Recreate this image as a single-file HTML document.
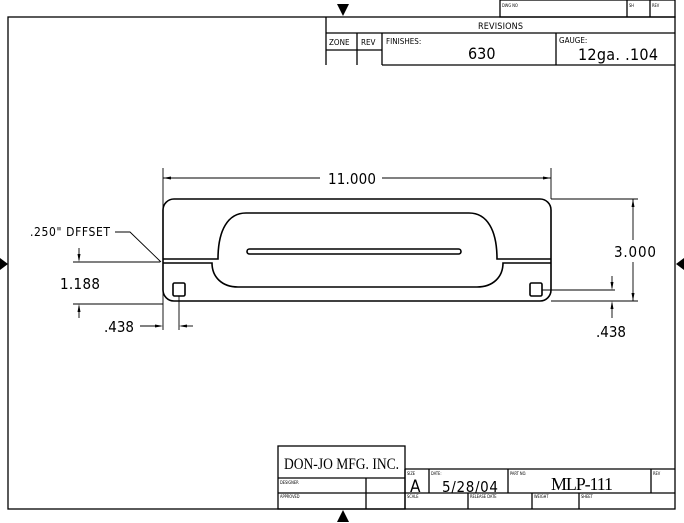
<!DOCTYPE html>
<html><head><style>
body{margin:0;background:#fff}
svg{display:block}
text{font-family:"DejaVu Sans Condensed","DejaVu Sans","Liberation Sans",sans-serif;fill:#000}
.s{font-family:"Liberation Serif",serif}
</style></head><body>
<svg width="684" height="523" viewBox="0 0 684 523" xmlns="http://www.w3.org/2000/svg">
<g fill="none" stroke="#000" stroke-width="1.3">
<rect x="8" y="17" width="667" height="492"/>
<rect x="500" y="0" width="175" height="17"/>
<line x1="627" y1="0" x2="627" y2="17"/><line x1="650" y1="0" x2="650" y2="17"/>
<line x1="326" y1="17" x2="326" y2="65"/>
<line x1="326" y1="33" x2="675" y2="33"/>
<line x1="326" y1="50" x2="382" y2="50"/>
<line x1="357" y1="33" x2="357" y2="65"/>
<line x1="382" y1="33" x2="382" y2="65"/>
<line x1="556" y1="33" x2="556" y2="65"/>
<line x1="382" y1="65" x2="675" y2="65"/>
<rect x="278" y="446" width="127" height="63"/>
<line x1="278" y1="478" x2="405" y2="478"/>
<line x1="278" y1="493" x2="675" y2="493"/>
<line x1="366" y1="478" x2="366" y2="509"/>
<line x1="405" y1="469" x2="675" y2="469"/>
<line x1="405" y1="469" x2="405" y2="509"/>
<line x1="429" y1="469" x2="429" y2="493"/>
<line x1="508" y1="469" x2="508" y2="493"/>
<line x1="651" y1="469" x2="651" y2="493"/>
<line x1="468" y1="493" x2="468" y2="509"/>
<line x1="532" y1="493" x2="532" y2="509"/>
<line x1="579" y1="493" x2="579" y2="509"/>
<g stroke-width="1.6">
<rect x="163" y="199" width="388" height="102" rx="11"/>
<path d="M163 259 H218 C218 230 228 213 246 213 H469 C487 213 497 230 497 259 H551"/>
<path d="M163 263 H212 C212 277 222 287 238 287 H477 C493 287 503 277 503 263 H551"/>
<rect x="247" y="249" width="214" height="5" rx="2.5"/>
<rect x="173" y="283" width="12" height="13" rx="1.5"/>
<rect x="530" y="283" width="12" height="13" rx="1.5"/>
</g>
<g stroke-width="0.9">
<line x1="163" y1="168" x2="163" y2="330"/>
<line x1="551" y1="168" x2="551" y2="199"/>
<line x1="163" y1="178" x2="320" y2="178"/><line x1="382" y1="178" x2="551" y2="178"/>
<line x1="551" y1="199" x2="638" y2="199"/>
<line x1="551" y1="301" x2="638" y2="301"/>
<line x1="633" y1="199" x2="633" y2="240"/><line x1="633" y1="262" x2="633" y2="301"/>
<line x1="542" y1="290" x2="615" y2="290"/>
<line x1="612" y1="276" x2="612" y2="288"/>
<line x1="612" y1="303" x2="612" y2="318"/>
<line x1="73" y1="262" x2="160" y2="262"/>
<line x1="73" y1="304" x2="163" y2="304"/>
<line x1="79" y1="248" x2="79" y2="260"/>
<line x1="79" y1="306" x2="79" y2="318"/>
<line x1="179" y1="296" x2="179" y2="330"/>
<line x1="140" y1="326" x2="161" y2="326"/>
<line x1="181" y1="326" x2="193" y2="326"/>
<polyline points="115,232 130,232 161,262"/>
</g>
</g>
<g fill="#000">
<path d="M337 4 H349 L343 16Z"/>
<path d="M337 522 H349 L343 510Z"/>
<path d="M0 258 L8 264 L0 270Z"/>
<path d="M684 258 L676 264 L684 270Z"/>
<path d="M163 178 L171 176.5 L171 179.5Z"/><path d="M551 178 L543 176.5 L543 179.5Z"/>
<path d="M633 199 L631.5 207 L634.5 207Z"/><path d="M633 301 L631.5 293 L634.5 293Z"/>
<path d="M79 262 L77.5 254 L80.5 254Z"/><path d="M79 304 L77.5 312 L80.5 312Z"/>
<path d="M612 290 L610.5 282 L613.5 282Z"/><path d="M612 301 L610.5 309 L613.5 309Z"/>
<path d="M163 326 L155 324.5 L155 327.5Z"/><path d="M179 326 L187 324.5 L187 327.5Z"/>
</g>
<g>
<text x="328" y="184" font-size="15" textLength="48">11.000</text>
<text x="614" y="257" font-size="15" textLength="42">3.000</text>
<text x="60" y="289" font-size="15" textLength="40">1.188</text>
<text x="104" y="332" font-size="15" textLength="30">.438</text>
<text x="596" y="337" font-size="15" textLength="30">.438</text>
<text x="30" y="236" font-size="12" textLength="80">.250" DFFSET</text>
</g>
<g>
<text x="478" y="29" font-size="9" textLength="45">REVISIONS</text>
<text x="329" y="45" font-size="8">ZONE</text>
<text x="361" y="45" font-size="8">REV</text>
<text x="386" y="44" font-size="8">FINISHES:</text>
<text x="559" y="43" font-size="8">GAUGE:</text>
<text x="468" y="59" font-size="16">630</text>
<text x="578" y="60" font-size="16" textLength="80">12ga. .104</text>
<text x="502" y="7" font-size="4">DWG NO</text>
<text x="629" y="7" font-size="4">SH</text>
<text x="652" y="7" font-size="4">REV</text>
<text x="284" y="469" class="s" font-size="16" textLength="115" lengthAdjust="spacingAndGlyphs">DON-JO MFG. INC.</text>
<text x="280" y="484" font-size="4">DESIGNER</text>
<text x="280" y="498" font-size="4">APPROVED</text>
<text x="407" y="475" font-size="4">SIZE</text>
<text x="431" y="475" font-size="4">DATE:</text>
<text x="510" y="475" font-size="4">PART NO.</text>
<text x="653" y="475" font-size="4">REV</text>
<text x="407" y="498" font-size="4">SCALE</text>
<text x="470" y="498" font-size="4">RELEASE DATE</text>
<text x="534" y="498" font-size="4">WEIGHT</text>
<text x="581" y="498" font-size="4">SHEET</text>
<text x="410" y="492" font-size="17">A</text>
<text x="442" y="492" font-size="15" textLength="56">5/28/04</text>
<text x="551" y="490" class="s" font-size="18" textLength="62">MLP-111</text>
</g>
</svg>
</body></html>
